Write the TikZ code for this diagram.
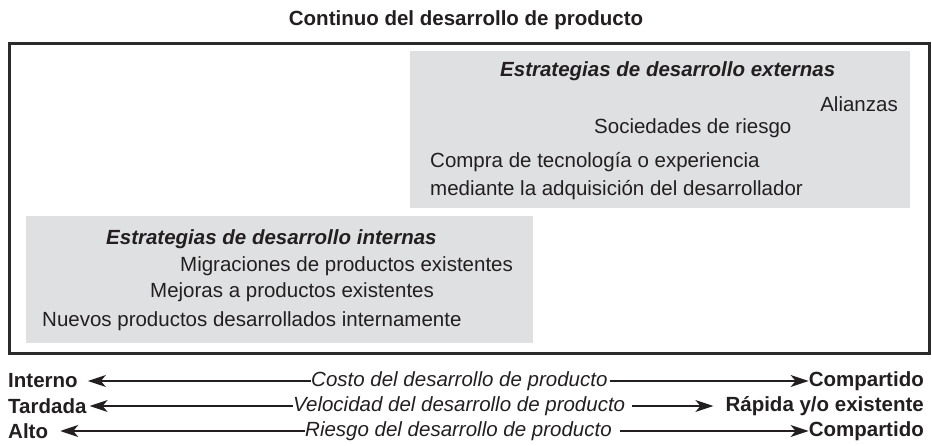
\documentclass[tikz,border=0pt]{standalone}
\usepackage{fontspec}
\setmainfont{Liberation Sans}
\usepackage{tikz}
\usetikzlibrary{arrows.meta, positioning}
\definecolor{inkdark}{HTML}{231F20}
\definecolor{framegray}{HTML}{2B2B2B}
\definecolor{panelgray}{HTML}{DFE0E2}

\begin{document}
\begin{tikzpicture}[
    x=1pt, y=-1pt,
    every node/.style={font=\fontsize{20.5}{23}\selectfont, text=inkdark, inner sep=0pt},
    heading/.style={font=\fontsize{20.5}{23}\selectfont\bfseries},
    groupname/.style={font=\fontsize{20.5}{23}\selectfont\bfseries\itshape},
    axisname/.style={font=\fontsize{20.5}{23}\selectfont\itshape},
    endname/.style={font=\fontsize{20.5}{23}\selectfont\bfseries},
    panel/.style={rectangle, fill=panelgray, draw=none, anchor=north west},
    outline/.style={rectangle, draw=framegray, line width=2.8pt, anchor=north west},
    arrow/.style={-{Stealth[length=18pt, width=12pt, inset=5pt]}, line width=1.5pt, inkdark}
]
\useasboundingbox (0,0) rectangle (932,446);

\node[heading] (title) at (466,20) {Continuo del desarrollo de producto};

\node[panel, minimum width=500pt, minimum height=157pt] (extpanel) at (410,51) {};
\node[panel, minimum width=507pt, minimum height=127pt] (intpanel) at (26,216) {};
\node[outline, minimum width=920pt, minimum height=310pt] (frame) at (8,42) {};

\node[groupname, anchor=west] (extname) at (500,71) {Estrategias de desarrollo externas};
\node[anchor=east] (alianzas) at (898,104) {Alianzas};
\node[anchor=west] (sociedades) at (594,128) {Sociedades de riesgo};
\node[anchor=west] (compra) at (430,162) {Compra de tecnología o experiencia};
\node[anchor=west] (mediante) at (430,190) {mediante la adquisición del desarrollador};

\node[groupname, anchor=west] (intname) at (106,239) {Estrategias de desarrollo internas};
\node[anchor=west] (migraciones) at (180,266) {Migraciones de productos existentes};
\node[anchor=west] (mejoras) at (150,292) {Mejoras a productos existentes};
\node[anchor=west] (nuevos) at (42,321) {Nuevos productos desarrollados internamente};

\node[endname, anchor=west] (interno) at (8,381) {Interno};
\node[axisname, anchor=west] (costo) at (311,381) {Costo del desarrollo de producto};
\node[endname, anchor=east] (compartidoA) at (924,381) {Compartido};

\node[endname, anchor=west] (tardada) at (8,406) {Tardada};
\node[axisname, anchor=west] (velocidad) at (293,406) {Velocidad del desarrollo de producto};
\node[endname, anchor=east] (rapida) at (924,406) {Rápida y/o existente};

\node[endname, anchor=west] (alto) at (8,431) {Alto};
\node[axisname, anchor=west] (riesgo) at (305,431) {Riesgo del desarrollo de producto};
\node[endname, anchor=east] (compartidoB) at (924,431) {Compartido};

\draw[arrow, shorten >=10pt] (costo.west) -- (costo.west -| interno.east);
\draw[arrow, shorten <=2pt] (costo.east) -- (costo.east -| compartidoA.west);
\draw[arrow, shorten >=3pt] (velocidad.west) -- (velocidad.west -| tardada.east);
\draw[arrow, shorten <=7pt, shorten >=12pt] (velocidad.east) -- (velocidad.east -| rapida.west);
\draw[arrow, shorten >=12pt] (riesgo.west) -- (riesgo.west -| alto.east);
\draw[arrow, shorten <=8pt] (riesgo.east) -- (riesgo.east -| compartidoB.west);
\end{tikzpicture}
\end{document}
